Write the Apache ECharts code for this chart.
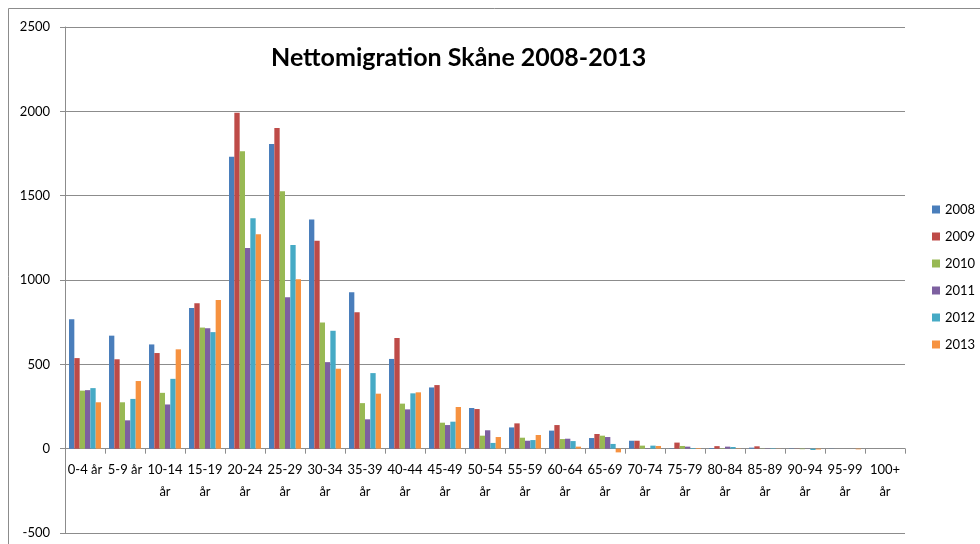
<!DOCTYPE html>
<html>
<head>
<meta charset="utf-8">
<script src="https://cdn.jsdelivr.net/npm/echarts@6/dist/echarts.min.js"></script>
<style>
  html, body { margin: 0; padding: 0; background: #fff; }
  #chart { width: 980px; height: 544px; }
</style>
</head>
<body>
<div id="chart"></div>
<script>
// age groups
const categories = ["0-4 år", "5-9 år", "10-14 år", "15-19 år", "20-24 år", "25-29 år", "30-34 år",
  "35-39 år", "40-44 år", "45-49 år", "50-54 år", "55-59 år", "60-64 år", "65-69 år", "70-74 år",
  "75-79 år", "80-84 år", "85-89 år", "90-94 år", "95-99 år", "100+ år"];

const years = ["2008", "2009", "2010", "2011", "2012", "2013"];

const y2008 = [767, 670, 618, 834, 1731, 1806, 1358, 928, 532, 363, 241, 126, 107, 63, 47, 2, 4, 6, 2, 1, 0];
const y2009 = [537, 530, 567, 862, 1992, 1901, 1232, 809, 656, 377, 235, 150, 140, 87, 47, 36, 15, 14, 1, 0, 0];
const y2010 = [344, 275, 331, 718, 1763, 1526, 748, 270, 267, 154, 77, 65, 57, 77, 18, 16, 2, 1, -3, 0, 0];
const y2011 = [347, 168, 262, 714, 1190, 898, 513, 174, 233, 140, 109, 47, 59, 69, 2, 12, 12, 2, 1, 0, 0];
const y2012 = [359, 295, 414, 691, 1366, 1208, 699, 448, 328, 160, 34, 51, 45, 28, 18, 4, 10, 3, -8, 0, 0];
const y2013 = [275, 401, 589, 881, 1271, 1005, 474, 326, 334, 247, 69, 81, 12, -22, 16, 4, 2, 1, -5, -4, 0];

const yTicks = [-500, 0, 500, 1000, 1500, 2000, 2500];

const colors = ["#4A7EBB", "#BE4B48", "#98B954", "#7D60A0", "#46AAC5", "#F69240"];
const values = [y2008, y2009, y2010, y2011, y2012, y2013];

const font = "Lato, 'Open Sans', sans-serif";

const chart = echarts.init(document.getElementById("chart"));
const gridTop = 27, gridBottom = 11;
const plotH = 544 - gridTop - gridBottom;
// lift the category axis from the bottom (-500) up to the zero line
const zeroOffset = plotH * (0 - yTicks[0]) / (yTicks[yTicks.length - 1] - yTicks[0]);

chart.setOption({
  animation: false,
  color: colors,
  title: {
    text: "Nettomigration Skåne 2008-2013",
    left: 266,
    top: 40,
    textStyle: { fontFamily: font, fontSize: 25, fontWeight: "bold", color: "#000" }
  },
  legend: {
    data: years,
    orient: "vertical",
    left: 932,
    top: 203,
    padding: 0,
    itemWidth: 8,
    itemHeight: 8,
    itemGap: 14,
    icon: "rect",
    textStyle: { fontFamily: font, fontSize: 13, color: "#000" }
  },
  graphic: [{
    type: "rect",
    shape: { x: 8.5, y: 8.5, width: 990, height: 560 },
    style: { fill: "none", stroke: "#8c8c8c", lineWidth: 1 },
    silent: true
  }],
  grid: { left: 65, right: 75, top: gridTop, bottom: gridBottom, containLabel: false, outerBoundsMode: "none" },
  xAxis: {
    type: "category",
    data: categories,
    position: "bottom",
    offset: -zeroOffset,
    axisLine: { onZero: false, lineStyle: { color: "#8c8c8c" } },
    axisTick: { show: true, interval: 0, length: 5, lineStyle: { color: "#8c8c8c" } },
    axisLabel: {
      interval: 0,
      margin: 10,
      fontFamily: font,
      fontSize: 13,
      lineHeight: 22,
      color: "#000",
      formatter: v => v.length > 6 ? v.replace(" ", "\n") : v
    }
  },
  yAxis: {
    type: "value",
    min: yTicks[0],
    max: yTicks[yTicks.length - 1],
    interval: 500,
    axisLine: { show: true, lineStyle: { color: "#8c8c8c" } },
    axisTick: { show: true, length: 5, lineStyle: { color: "#8c8c8c" } },
    splitLine: { lineStyle: { color: "#8c8c8c" } },
    axisLabel: { fontFamily: font, fontSize: 13, color: "#000", margin: 15, formatter: v => String(v) }
  },
  series: years.map((y, i) => ({
    name: y,
    type: "bar",
    data: values[i],
    barGap: "0%",
    barCategoryGap: "20%"
  }))
});
</script>
</body>
</html>
